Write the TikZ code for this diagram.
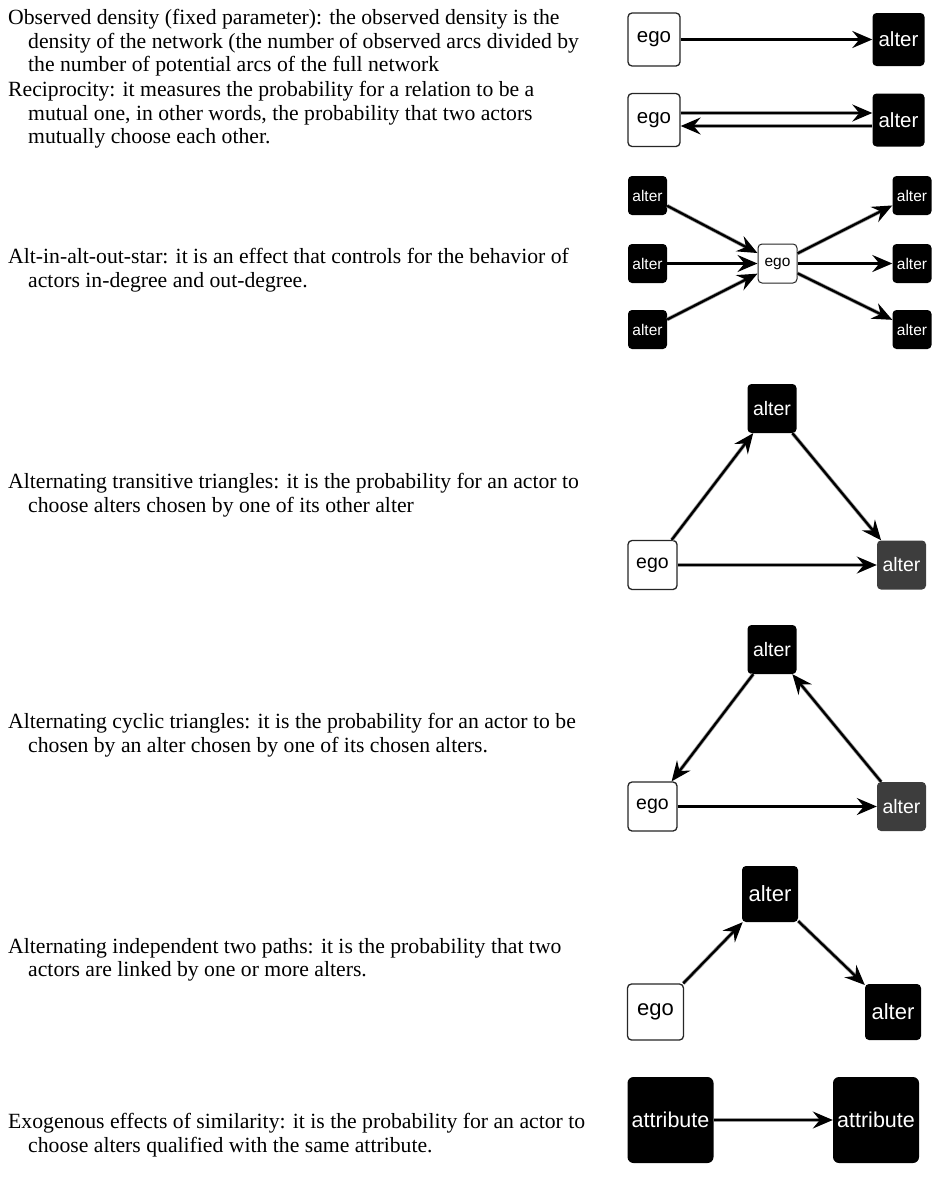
\documentclass[tikz,border=0pt]{standalone}
\usepackage{fontspec}
\setmainfont{Liberation Serif}
\setsansfont{Liberation Sans}
\usetikzlibrary{arrows.meta}
\begin{document}
\begin{tikzpicture}[x=1pt,y=-1pt,
  desc/.style={anchor=west, align=left, inner sep=0pt, font=\fontsize{21.7pt}{23.5pt}\selectfont},
  egobox/.style={draw=black!85, line width=1.3pt, fill=white, rounded corners=4pt, inner sep=0pt},
  altbox/.style={fill=black, text=white, rounded corners=4pt, inner sep=0pt},
  darkbox/.style={fill=black!76, text=white, rounded corners=4pt, inner sep=0pt},
  szA/.style={minimum width=52pt, minimum height=53pt, font=\sffamily\fontsize{20.5pt}{20.5pt}\selectfont},
  szB/.style={minimum width=39pt, minimum height=39pt, font=\sffamily\fontsize{15.5pt}{15.5pt}\selectfont},
  szC/.style={minimum width=49pt, minimum height=49pt, font=\sffamily\fontsize{19.5pt}{19.5pt}\selectfont},
  szD/.style={minimum width=56pt, minimum height=56pt, font=\sffamily\fontsize{22pt}{22pt}\selectfont},
  szE/.style={minimum width=86pt, minimum height=86pt, font=\sffamily\fontsize{21.5pt}{21.5pt}\selectfont},
  arr/.style={-{Stealth[length=20pt,width=17pt,inset=7pt]}, line width=2.3pt, black,
    preaction={draw=black!40, line width=3.8pt, -, shorten >=14pt}}
]
\useasboundingbox (0,0) rectangle (937,1194);

% ---------- texts ----------
\node[desc] (t1) at (8,43) {Observed density (fixed parameter): the observed density is the\\
\hspace*{20pt}density of the network (the number of observed arcs divided by\\
\hspace*{20pt}the number of potential arcs of the full network};
\node[desc] (t2) at (8,115) {Reciprocity: it measures the probability for a relation to be a\\
\hspace*{20pt}mutual one, in other words, the probability that two actors\\
\hspace*{20pt}mutually choose each other.};
\node[desc] (t3) at (8,270) {Alt-in-alt-out-star: it is an effect that controls for the behavior of\\
\hspace*{20pt}actors in-degree and out-degree.};
\node[desc] (t4) at (8,495) {Alternating transitive triangles: it is the probability for an actor to\\
\hspace*{20pt}choose alters chosen by one of its other alter};
\node[desc] (t5) at (8,735) {Alternating cyclic triangles: it is the probability for an actor to be\\
\hspace*{20pt}chosen by an alter chosen by one of its chosen alters.};
\node[desc] (t6) at (8,960) {Alternating independent two paths: it is the probability that two\\
\hspace*{20pt}actors are linked by one or more alters.};
\node[desc] (t7) at (8,1135) {Exogenous effects of similarity: it is the probability for an actor to\\
\hspace*{20pt}choose alters qualified with the same attribute.};

% ---------- diagram 1 ----------
\node[egobox,szA] (e1) at (654,39.5) {ego};
\node[altbox,szA] (a1) at (898.5,39.5) {alter};
\draw[arr] (e1) -- (a1);

% ---------- diagram 2 ----------
\node[egobox,szA] (e2) at (654,120) {ego};
\node[altbox,szA] (a2) at (898.5,120) {alter};
\draw[arr] ([yshift=7pt]e2.east) -- ([yshift=7pt]a2.west);
\draw[arr] ([yshift=-6pt]a2.west) -- ([yshift=-6pt]e2.east);

% ---------- diagram 3 ----------
\node[egobox,szB,line width=1pt] (e3) at (777.5,263.5) {ego};
\node[altbox,szB] (l3a) at (647.5,195.5) {alter};
\node[altbox,szB] (l3b) at (647.5,263.5) {alter};
\node[altbox,szB] (l3c) at (647.5,329.5) {alter};
\node[altbox,szB] (r3a) at (912,195.5) {alter};
\node[altbox,szB] (r3b) at (912,263.5) {alter};
\node[altbox,szB] (r3c) at (912,329.5) {alter};
\draw[arr] (l3a) -- (e3);
\draw[arr] (l3b) -- (e3);
\draw[arr] (l3c) -- (e3);
\draw[arr] (e3) -- (r3a);
\draw[arr] (e3) -- (r3b);
\draw[arr] (e3) -- (r3c);

% ---------- diagram 4 ----------
\node[altbox,szC] (t4a) at (772,408.5) {alter};
\node[egobox,szC] (e4) at (652.5,565) {ego};
\node[darkbox,szC] (r4) at (901.5,565) {alter};
\draw[arr] (e4) -- (t4a);
\draw[arr] (t4a) -- (r4);
\draw[arr] (e4) -- (r4);

% ---------- diagram 5 ----------
\node[altbox,szC] (t5a) at (772,649.5) {alter};
\node[egobox,szC] (e5) at (652.5,806.5) {ego};
\node[darkbox,szC] (r5) at (901.5,806.5) {alter};
\draw[arr] (t5a) -- (e5);
\draw[arr] (r5) -- (t5a);
\draw[arr] (e5) -- (r5);

% ---------- diagram 6 ----------
\node[altbox,szD] (t6a) at (770,894) {alter};
\node[egobox,szD] (e6) at (655.5,1012) {ego};
\node[altbox,szD] (r6) at (893,1012) {alter};
\draw[arr] (e6) -- (t6a);
\draw[arr] (t6a) -- (r6);

% ---------- diagram 7 ----------
\node[altbox,szE,rounded corners=6pt] (p7) at (670.5,1120) {attribute};
\node[altbox,szE,rounded corners=6pt] (q7) at (876,1120) {attribute};
\draw[arr] (p7) -- (q7);
\end{tikzpicture}
\end{document}
